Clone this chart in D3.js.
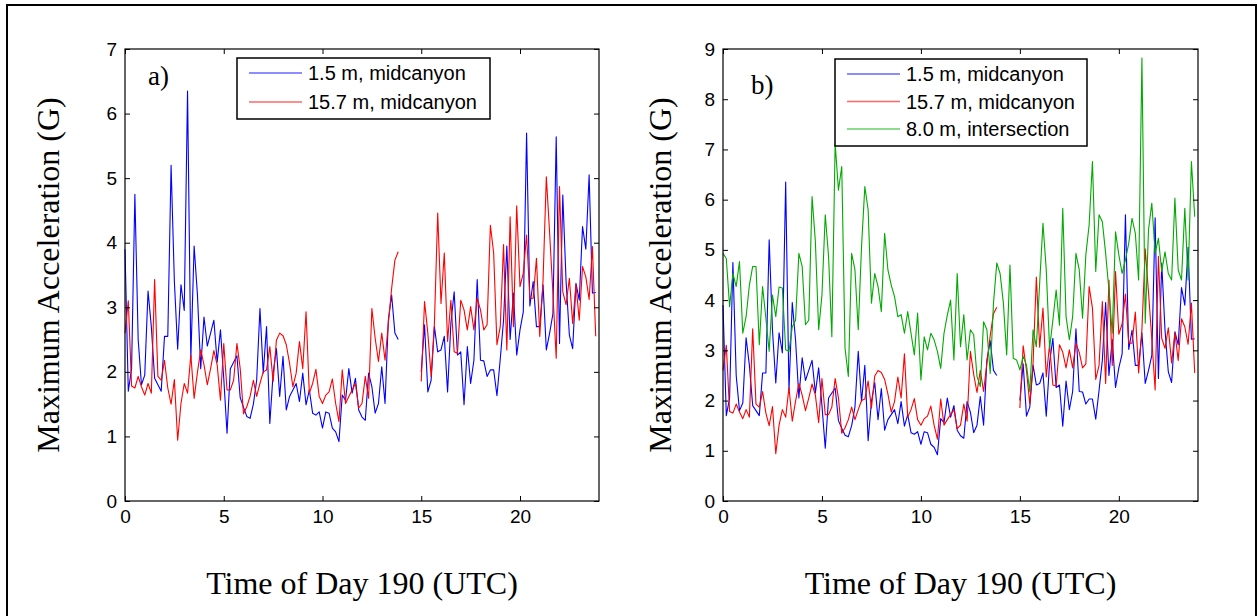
<!DOCTYPE html>
<html>
<head>
<meta charset="utf-8">
<script src="https://cdn.jsdelivr.net/npm/d3@7"></script>
<style>
  body { margin: 0; background: #fff; }
  svg text { font-family: "Liberation Sans", Arial, sans-serif; fill: #000; }
  svg text.serif { font-family: "Liberation Serif", "Times New Roman", serif; }
</style>
</head>
<body>
<div id="chart"></div>
<script>
// samples every 10 minutes, index 0 = 00:00 UTC; null = no data
var stepHours = 1 / 6;

var blueMid = [3.9, 1.7, 2.05, 4.75, 2.5, 1.8, 1.95, 3.25, 2.7, 1.9, 1.8, 1.7, 2.55, 2.55, 5.2, 3.4, 2.35, 3.35, 2.95, 6.35,
  2.2, 3.95, 3.2, 2.05, 2.85, 2.4, 2.6, 2.8, 2.15, 2.65, 1.9, 1.05, 2.05, 2.15, 2.25, 1.6, 1.45,
  1.31, 1.28, 1.5, 1.87, 2.98, 1.98, 2.7, 1.2, 1.98, 2.36, 1.62, 2.24, 1.41, 1.62, 1.72, 1.82, 1.54, 1.98, 1.49,
  1.72, 1.36, 1.33, 1.38, 1.13, 1.38, 1.36, 1.13, 1.07, 0.92, 1.64, 1.56, 2.05, 1.67, 1.9, 1.41, 1.3,
  1.25, 1.98, 1.77, 1.36, 1.51, 2.08, 1.51, 2.8, 3.19, 2.6, 2.5,
  null, null, null, null, null, null,
  2.0, 2.73, 1.69, 1.87, 2.7, 2.31, 2.34, 2.55, 1.69, 2.75, 3.24, 2.26, 2.31, 1.49, 2.39, 1.82, 2.18, 3.43, 2.18,
  2.17, 1.93, 2.03, 2.03, 1.63, 2.2, 2.8, 3.95, 2.5, 3.22, 2.26, 2.65, 2.93, 5.7, 3.02, 3.4, 2.7, 2.7, 3.35, 2.34,
  2.6, 2.9, 5.64, 2.44, 4.74, 3.4, 2.57, 2.36, 3.37, 3.11, 4.25, 3.9, 5.05, 3.22, 3.23];

var redMid = [2.6, 3.1, 1.78, 1.75, 1.93, 1.77, 1.64, 1.82, 1.67, 3.43, 1.93, 1.87, 2.18, 1.75, 1.5, 1.88, 0.94, 1.51, 1.82, 1.67,
  2.26, 1.59, 1.99, 2.34, 2.11, 1.8, 2.05, 2.33, 2.11, 1.56, 2.44, 1.72, 1.72, 1.87, 2.44, 2.05, 1.35,
  1.46, 1.62, 1.87, 1.62, 1.82, 2.0, 2.03, 2.39, 1.85, 2.49, 2.6, 2.56, 2.42, 2.13, 1.77, 1.98, 2.47, 2.05, 2.93,
  1.67, 1.82, 2.04, 1.62, 1.51, 1.64, 1.69, 1.89, 1.51, 1.23, 2.03, 1.51, 1.62, 1.72, 1.82, 1.44, 1.51,
  1.93, 1.59, 2.98, 2.52, 2.16, 2.6, 2.18, 2.75, 3.29, 3.73, 3.86,
  null, null, null, null, null, null,
  1.85, 3.09, 2.6, 1.93, 2.75, 4.46, 3.06, 3.84, 2.47, 3.11, 2.31, 2.29, 3.11, 2.96, 2.65, 3.01, 2.65, 3.14, 2.96,
  2.65, 2.73, 4.27, 3.84, 2.42, 2.7, 3.97, 2.34, 4.4, 2.7, 4.57, 3.32, 3.53, 4.12, 3.14, 3.14, 3.76, 2.55, 3.42, 5.02,
  4.15, 3.22, 2.21, 4.87, 3.24, 3.04, 3.45, 2.75, 3.35, 2.8, 3.63, 3.47, 3.12, 3.94, 2.55];

var greenInt = [4.93, 4.83, 3.87, 4.53, 4.27, 4.77, 3.34, 3.67, 4.3, 4.67, 4.67, 3.11, 4.27, 3.64, 2.98, 4.1, 3.67, 4.26,
  4.24, 3.01, 2.98, 3.47, 3.6, 4.93, 4.67, 3.51, 3.6, 6.06, 5.17, 3.41, 4.1, 5.7, 4.87, 3.27, 7.12, 6.19, 6.66,
  3.04, 2.48, 4.93, 4.6, 3.41, 5.07, 6.26, 5.8, 3.94, 4.53, 4.27, 3.77, 5.33, 4.6, 4.3, 4.07, 3.67, 3.71, 3.34,
  3.77, 3.34, 2.91, 3.74, 2.41, 3.27, 3.01, 3.34, 3.21, 2.98, 2.64, 3.34, 3.7, 4.0, 2.81, 4.53, 3.07,
  3.71, 2.81, 3.41, 3.31, 2.48, 2.28, 3.57, 3.41, 2.54, 3.94, 4.74, 4.53, 3.94, 2.91, 4.7, 2.84, 2.81, 2.61, 2.88,
  2.71, 2.18, 3.41, 3.07, 4.34, 5.53, 4.6, 3.04, 3.6, 4.2, 3.5, 5.83, 3.67, 3.21, 3.67, 4.93,
  4.6, 3.64, 4.9, 5.5, 6.76, 4.57, 5.7, 5.56, 4.93, 4.2, 3.34, 5.36, 4.9, 4.53, 4.8, 5.13, 5.63, 5.33, 4.4, 8.82,
  3.54, 5.4, 5.93, 4.93, 5.23, 4.57, 4.96, 4.53, 4.4, 6.03, 4.6, 4.4, 5.83, 4.4, 6.76, 5.66];

var xTicks = [0, 5, 10, 15, 20];
var yTicksA = [0, 1, 2, 3, 4, 5, 6, 7];
var yTicksB = [0, 1, 2, 3, 4, 5, 6, 7, 8, 9];
var seriesNames = ["1.5 m, midcanyon", "15.7 m, midcanyon", "8.0 m, intersection"];
var seriesColors = ["#0000ff", "#ff0000", "#00aa00"];

var W = 1258, H = 616;
var svg = d3.select("#chart").append("svg").attr("width", W).attr("height", H);

// outer figure frame
svg.append("rect")
  .attr("x", 7).attr("y", 5).attr("width", 1249).attr("height", 700)
  .attr("fill", "none").attr("stroke", "#000").attr("stroke-width", 2);

function drawPanel(p) {
  var x = d3.scaleLinear().domain([0, 24]).range([p.left, p.right]);
  var y = d3.scaleLinear().domain([0, p.yMax]).range([p.bottom, p.top]);
  var g = svg.append("g");
  var fmt = d3.format("d");

  var line = d3.line()
    .defined(function(d) { return d != null; })
    .x(function(d, i) { return x(i * stepHours); })
    .y(function(d) { return y(d); });

  p.series.forEach(function(s, k) {
    g.append("path")
      .attr("d", line(s))
      .attr("fill", "none")
      .attr("stroke", seriesColors[k])
      .attr("stroke-width", 1.1)
      .attr("stroke-linejoin", "round");
  });

  // axes with inward ticks on all four sides
  var bottom = g.append("g").attr("transform", "translate(0," + p.bottom + ")")
    .call(d3.axisBottom(x).tickValues(xTicks).tickFormat(fmt).tickSizeInner(-5).tickSizeOuter(0).tickPadding(9));
  var left = g.append("g").attr("transform", "translate(" + p.left + ",0)")
    .call(d3.axisLeft(y).tickValues(p.yTicks).tickFormat(fmt).tickSizeInner(-5).tickSizeOuter(0).tickPadding(8));
  var top = g.append("g").attr("transform", "translate(0," + p.top + ")")
    .call(d3.axisTop(x).tickValues(xTicks).tickSizeInner(-5).tickSizeOuter(0).tickFormat(""));
  var right = g.append("g").attr("transform", "translate(" + p.right + ",0)")
    .call(d3.axisRight(y).tickValues(p.yTicks).tickSizeInner(-5).tickSizeOuter(0).tickFormat(""));
  [bottom, left, top, right].forEach(function(a) {
    a.select(".domain").remove();
    a.selectAll("line").attr("stroke", "#000");
    a.selectAll("text").attr("font-size", 19).attr("font-family", "Liberation Sans, Arial, sans-serif");
  });

  g.append("rect")
    .attr("x", p.left).attr("y", p.top)
    .attr("width", p.right - p.left).attr("height", p.bottom - p.top)
    .attr("fill", "none").attr("stroke", "#000").attr("stroke-width", 1.2);

  // panel letter
  g.append("text").attr("class", "serif")
    .attr("x", p.letterX).attr("y", p.letterY)
    .attr("font-size", 27).text(p.letter);

  // legend
  var n = p.series.length;
  var lg = g.append("g");
  lg.append("rect")
    .attr("x", p.legX).attr("y", p.legY).attr("width", p.legW).attr("height", p.legH)
    .attr("fill", "#fff").attr("stroke", "#000").attr("stroke-width", 1.5);
  for (var k = 0; k < n; k++) {
    var ry = p.legY + 15 + k * p.legStep;
    lg.append("line")
      .attr("x1", p.legX + 12).attr("x2", p.legX + 65)
      .attr("y1", ry).attr("y2", ry)
      .attr("stroke", seriesColors[k]).attr("stroke-opacity", 0.6).attr("stroke-width", 1.5);
    lg.append("text")
      .attr("x", p.legX + 71).attr("y", ry).attr("dy", "0.35em")
      .attr("font-size", 20).text(seriesNames[k]);
  }

  // axis titles
  g.append("text").attr("class", "serif")
    .attr("text-anchor", "middle")
    .attr("x", (p.left + p.right) / 2).attr("y", 594)
    .attr("font-size", 32).text("Time of Day 190 (UTC)");
  g.append("text").attr("class", "serif")
    .attr("text-anchor", "middle")
    .attr("transform", "translate(" + p.yLabelX + "," + ((p.top + p.bottom) / 2) + ") rotate(-90)")
    .attr("font-size", 32).text("Maximum Acceleration (G)");
}

drawPanel({
  left: 125, right: 599, top: 49, bottom: 501, yMax: 7, yTicks: yTicksA,
  series: [blueMid, redMid], letter: "a)", letterX: 148, letterY: 85,
  legX: 237, legY: 58, legW: 253, legH: 61, legStep: 29, yLabelX: 59
});
drawPanel({
  left: 723, right: 1198, top: 49, bottom: 501, yMax: 9, yTicks: yTicksB,
  series: [blueMid, redMid, greenInt], letter: "b)", letterX: 751, letterY: 94,
  legX: 835, legY: 59, legW: 252, legH: 87, legStep: 27.5, yLabelX: 671
});
</script>
</body>
</html>
